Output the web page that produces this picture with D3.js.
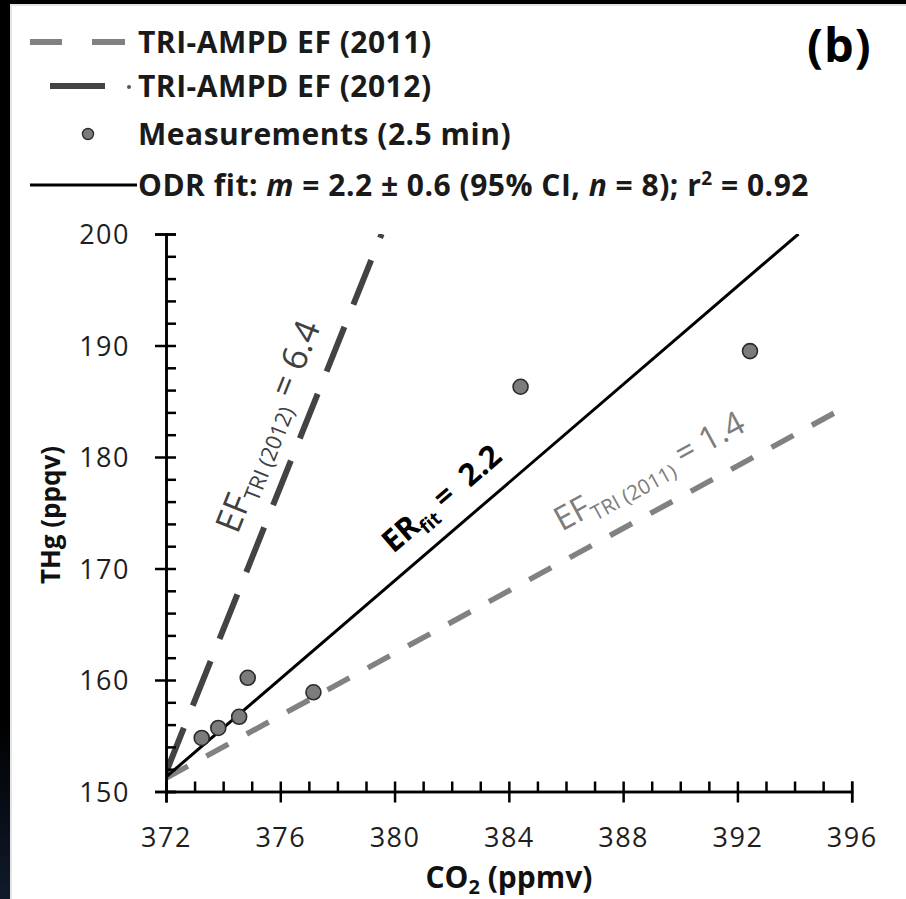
<!DOCTYPE html>
<html>
<head>
<meta charset="utf-8">
<script src="https://cdn.jsdelivr.net/npm/d3@7"></script>
<style>
  body { margin: 0; background: #fff; }
  svg { display: block; }
  text { white-space: pre; }
</style>
</head>
<body>
<svg id="chart" width="906" height="899"></svg>
<script>
// 2.5-min measurements: CO2 (ppmv) against total gaseous mercury THg (ppqv)
const co2 = [373.25, 373.83, 374.56, 374.86, 377.16, 384.41, 392.44];
const thg = [154.8, 155.7, 156.7, 160.2, 158.9, 186.3, 189.5];

// Reference lines: slope (ppqv THg per ppmv CO2) and THg value at CO2 = 372
const lineKeys = ["ef2011", "ef2012", "odr"];
const lineSlopes = [1.4, 6.4, 2.2];
const lineStarts = [151.2, 151.7, 151.3];

// Axis ticks
const xTicks = [372, 376, 380, 384, 388, 392, 396];
const xMinorTicks = d3.range(372, 397, 1);
const yTicks = [150, 160, 170, 180, 190, 200];
const yMinorTicks = d3.range(150, 201, 2);
const xDomain = [372, 396];
const yDomain = [150, 200];

const FONT = "'Open Sans', 'DejaVu Sans', sans-serif";

const svg = d3.select("#chart");

// page frame
svg.append("rect").attr("x", 0).attr("y", 0).attr("width", 906).attr("height", 899).attr("fill", "#fff");
const grad = svg.append("defs").append("linearGradient")
  .attr("id", "edge").attr("x1", 0).attr("y1", 0).attr("x2", 0).attr("y2", 1);
grad.append("stop").attr("offset", "0.8").attr("stop-color", "#000");
grad.append("stop").attr("offset", "1").attr("stop-color", "#111a2c");
svg.append("rect").attr("x", 0).attr("y", 0).attr("width", 10).attr("height", 899).attr("fill", "url(#edge)");
svg.append("rect").attr("x", 0).attr("y", 0).attr("width", 906).attr("height", 4).attr("fill", "#000");
svg.append("rect").attr("x", 10).attr("y", 4).attr("width", 2).attr("height", 895).attr("fill", "#e4e4e4");
svg.append("rect").attr("x", 10).attr("y", 4).attr("width", 896).attr("height", 2).attr("fill", "#e4e4e4");

const x = d3.scaleLinear().domain(xDomain).range([166, 851.7]);
const y = d3.scaleLinear().domain(yDomain).range([791.5, 234]);

svg.append("clipPath").attr("id", "plotClip")
  .append("rect").attr("x", x(372)).attr("y", y(200)).attr("width", x(396) - x(372)).attr("height", y(150) - y(200));

// reference lines
const lineStyles = {
  ef2011: { stroke: "#818181", width: 5.5, dash: "25,21" },
  ef2012: { stroke: "#434343", width: 6, dash: "48,24" },
  odr:    { stroke: "#000",    width: 3,  dash: null }
};
const lineData = lineKeys.map((k, i) => {
  const m = lineSlopes[i], b = lineStarts[i];
  const xEnd = Math.min(xDomain[1], xDomain[0] + (yDomain[1] - b) / m);
  return { key: k, m, pts: [[xDomain[0], b], [xEnd, b + m * (xEnd - xDomain[0])]] };
});
const lineGen = d3.line().x(d => x(d[0])).y(d => y(d[1]));
const plot = svg.append("g").attr("clip-path", "url(#plotClip)");
plot.selectAll("path.ref").data(lineData).join("path")
  .attr("class", "ref")
  .attr("d", d => lineGen(d.pts))
  .attr("fill", "none")
  .attr("stroke", d => lineStyles[d.key].stroke)
  .attr("stroke-width", d => lineStyles[d.key].width)
  .attr("stroke-dasharray", d => lineStyles[d.key].dash);

// measurements
svg.append("g").selectAll("circle").data(co2.map((c, i) => [c, thg[i]])).join("circle")
  .attr("cx", d => x(d[0])).attr("cy", d => y(d[1])).attr("r", 7.5)
  .attr("fill", "#7c7c7c").attr("stroke", "#2b2b2b").attr("stroke-width", 1.6);

// axes: major ticks cross the axis line, minor ticks point inward
const axisFont = g => g.selectAll("text")
  .attr("font-family", FONT).attr("font-size", 27).attr("fill", "#1e1e1e").attr("letter-spacing", 1.5);

const yAxisOut = svg.append("g").attr("transform", `translate(${x(372)},0)`)
  .call(d3.axisLeft(y).tickValues(yTicks).tickSize(11).tickPadding(25).tickFormat(d3.format("d")));
const yAxisIn = svg.append("g").attr("transform", `translate(${x(372)},0)`)
  .call(d3.axisRight(y).tickValues(yMinorTicks).tickSize(10).tickFormat(""));
const xAxisOut = svg.append("g").attr("transform", `translate(0,${y(150)})`)
  .call(d3.axisBottom(x).tickValues(xTicks).tickSize(11).tickFormat(d3.format("d")));
const xAxisIn = svg.append("g").attr("transform", `translate(0,${y(150)})`)
  .call(d3.axisTop(x).tickValues(xMinorTicks).tickSize(10).tickFormat(""));
[yAxisOut, yAxisIn, xAxisOut, xAxisIn].forEach(g => {
  g.select(".domain").attr("stroke", "#000").attr("stroke-width", 2.5);
  g.selectAll(".tick line").attr("stroke", "#000").attr("stroke-width", 2.5);
  axisFont(g);
});
yAxisOut.selectAll("text").attr("dy", "0.36em");
xAxisOut.selectAll("text").attr("y", 55).attr("dy", 0);

// axis titles
const xTitle = svg.append("text").attr("x", 509).attr("y", 888).attr("text-anchor", "middle")
  .attr("font-family", FONT).attr("font-size", 30).attr("font-weight", 700).attr("fill", "#111");
xTitle.append("tspan").text("CO");
xTitle.append("tspan").attr("font-size", 20).attr("dy", 6).text("2");
xTitle.append("tspan").attr("dy", -6).text(" (ppmv)");

svg.append("text").attr("transform", "translate(60,515) rotate(-90)").attr("text-anchor", "middle")
  .attr("font-family", FONT).attr("font-size", 26).attr("font-weight", 700).attr("fill", "#111")
  .text("THg (ppqv)");

// rotated line annotations
function annotate(key, at, parts, opts) {
  const d = lineData.find(l => l.key === key);
  const p0 = d.pts[0], p1 = d.pts[1];
  const ang = Math.atan2(y(p1[1]) - y(p0[1]), x(p1[0]) - x(p0[0])) * 180 / Math.PI;
  const t = svg.append("text")
    .attr("transform", `translate(${x(at[0])},${y(at[1])}) rotate(${ang})`)
    .attr("font-family", FONT).attr("font-size", opts.size).attr("font-weight", opts.weight)
    .attr("fill", opts.fill);
  parts.forEach(p => {
    const s = t.append("tspan").text(p.t);
    if (p.sub) s.attr("font-size", opts.size * 0.62).attr("dy", 7);
    if (p.back) s.attr("dy", -7);
  });
}
annotate("ef2012", [374.5, 173.0],
  [{ t: "EF" }, { t: "TRI (2012)", sub: true }, { t: " = 6.4", back: true }],
  { size: 35, weight: 500, fill: "#404040" });
annotate("odr", [379.95, 171.3],
  [{ t: "ER" }, { t: "fit", sub: true }, { t: " =  2.2", back: true }],
  { size: 31, weight: 700, fill: "#000" });
annotate("ef2011", [385.85, 173.3],
  [{ t: "EF" }, { t: "TRI (2011)", sub: true }, { t: " = 1.4", back: true }],
  { size: 33, weight: 500, fill: "#7d7d7d" });

// legend
const leg = svg.append("g");
leg.selectAll("line.l11").data([[30, 62], [92, 125]]).join("line")
  .attr("x1", d => d[0]).attr("x2", d => d[1]).attr("y1", 42).attr("y2", 42)
  .attr("stroke", lineStyles.ef2011.stroke).attr("stroke-width", 6);
leg.append("line").attr("x1", 50).attr("x2", 105).attr("y1", 86).attr("y2", 86)
  .attr("stroke", lineStyles.ef2012.stroke).attr("stroke-width", 6);
leg.append("circle").attr("cx", 129).attr("cy", 87).attr("r", 2).attr("fill", "#555");
leg.append("circle").attr("cx", 88).attr("cy", 134).attr("r", 5.5)
  .attr("fill", "#7c7c7c").attr("stroke", "#2b2b2b").attr("stroke-width", 1.4);
leg.append("line").attr("x1", 30).attr("x2", 137).attr("y1", 185).attr("y2", 185)
  .attr("stroke", "#000").attr("stroke-width", 3);

const legendText = (yy) => leg.append("text").attr("x", 138).attr("y", yy)
  .attr("font-family", FONT).attr("font-size", 30).attr("font-weight", 700).attr("fill", "#1a1a1a")
  .attr("letter-spacing", 0.5);
legendText(53).text("TRI-AMPD EF (2011)");
legendText(97).text("TRI-AMPD EF (2012)");
legendText(145).text("Measurements (2.5 min)");
const odrText = legendText(196);
odrText.append("tspan").text("ODR fit: ");
odrText.append("tspan").attr("font-style", "italic").text("m");
odrText.append("tspan").text(" = 2.2 ± 0.6 (95% CI, ");
odrText.append("tspan").attr("font-style", "italic").text("n");
odrText.append("tspan").text(" = 8); r");
odrText.append("tspan").attr("font-size", 19).attr("dy", -11).text("2");
odrText.append("tspan").attr("dy", 11).text(" = 0.92");

svg.append("text").attr("x", 807).attr("y", 62)
  .attr("font-family", FONT).attr("font-size", 47).attr("font-weight", 700).attr("fill", "#000")
  .attr("letter-spacing", 1).text("(b)");
</script>
</body>
</html>
